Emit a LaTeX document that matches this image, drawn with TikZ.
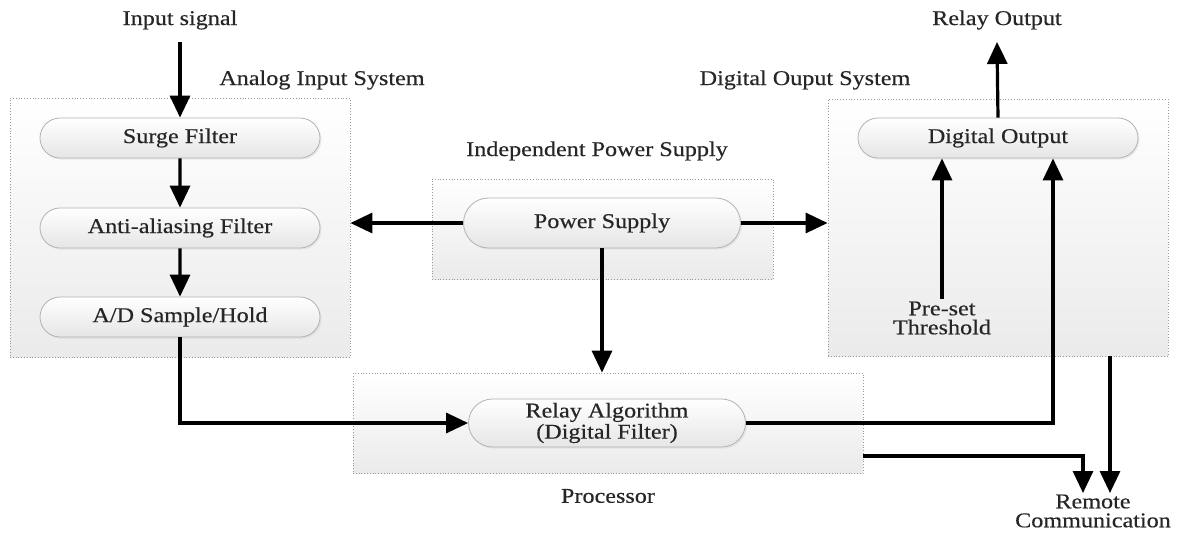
\documentclass[tikz,border=0pt]{standalone}
\usepackage{fontspec}
\setmainfont{Liberation Serif}[FakeStretch=1.15, FakeBold=0.4]
\usetikzlibrary{arrows.meta,shapes.misc,shadows}

\tikzset{
  sysbox/.style={draw=gray!80, densely dotted, top color=white, bottom color=gray!16, inner sep=0pt},
  block/.style={rounded rectangle, draw=gray!60, top color=white, bottom color=gray!20,
    drop shadow={opacity=0.12, shadow xshift=0.8pt, shadow yshift=-0.8pt},
    minimum width=142pt, minimum height=20pt, inner sep=1pt, align=center},
  lbl/.style={align=center, inner sep=1pt},
  flow/.style={line width=1.6pt, -{Triangle[length=11pt,width=10pt]}}
}

\begin{document}
\begin{tikzpicture}[x=0.5pt, y=-0.5pt, font=\fontsize{10.5}{9.5}\selectfont, text=black!85]
  \useasboundingbox (0,0) rectangle (1180,532);

  % subsystem boxes
  \node[sysbox, minimum width=170pt, minimum height=129.5pt] (analog) at (180,227.5) {};
  \node[sysbox, minimum width=170.5pt, minimum height=50pt] (power) at (602.5,229) {};
  \node[sysbox, minimum width=255pt, minimum height=50pt] (proc) at (608,423) {};
  \node[sysbox, minimum width=170pt, minimum height=128.5pt] (digital) at (998,227.5) {};

  % box titles
  \node[lbl] at (322,80) {Analog Input System};
  \node[lbl] at (597,151) {Independent Power Supply};
  \node[lbl] at (608,496) {Processor};
  \node[lbl] at (805,80) {Digital Ouput System};

  % blocks
  \node[block] (surge) at (180,138) {Surge Filter};
  \node[block] (anti) at (180,228) {Anti-aliasing Filter};
  \node[block] (adc) at (180,317) {A/D Sample/Hold};
  \node[block, minimum width=140.5pt, minimum height=25pt] (supply) at (602,223) {Power Supply};
  \node[block, minimum width=140.5pt, minimum height=24pt] (relay) at (607,423) {Relay Algorithm\\(Digital Filter)};
  \node[block] (dout) at (998,138) {Digital Output};

  % signals in and out
  \node[lbl] (insig) at (180,20) {Input signal};
  \node[lbl] (relout) at (997,20) {Relay Output};
  \node[lbl] (preset) at (942,318) {Pre-set\\Threshold};
  \node[lbl] (remote) at (1093,511) {Remote\\Communication};
  \coordinate (rc1) at (1083,493);
  \coordinate (rc2) at (1110,493);

  % analog chain
  \draw[flow] ([yshift=-5pt]insig.south) -- (surge.north);
  \draw[flow] (surge) -- (anti);
  \draw[flow] (anti) -- (adc);
  \draw[flow] (adc.south) |- (relay.west);

  % power feeds
  \draw[flow] (supply.west) -- (supply.west -| analog.east);
  \draw[flow] (supply.east) -- (supply.east -| digital.west);
  \draw[flow] (supply.south) -- (supply.south |- proc.north);

  % outputs
  \draw[flow] (dout.north) -- ([yshift=-5pt]relout.south);
  \draw[flow] (preset.north) -- (preset.north |- dout.south);
  \draw[flow] (relay.east) -| ([xshift=27.5pt]dout.south);
  \draw[flow] ([yshift=-16.5pt]proc.east) -| (rc1);
  \draw[flow] (digital.south -| rc2) -- (rc2);
\end{tikzpicture}
\end{document}
